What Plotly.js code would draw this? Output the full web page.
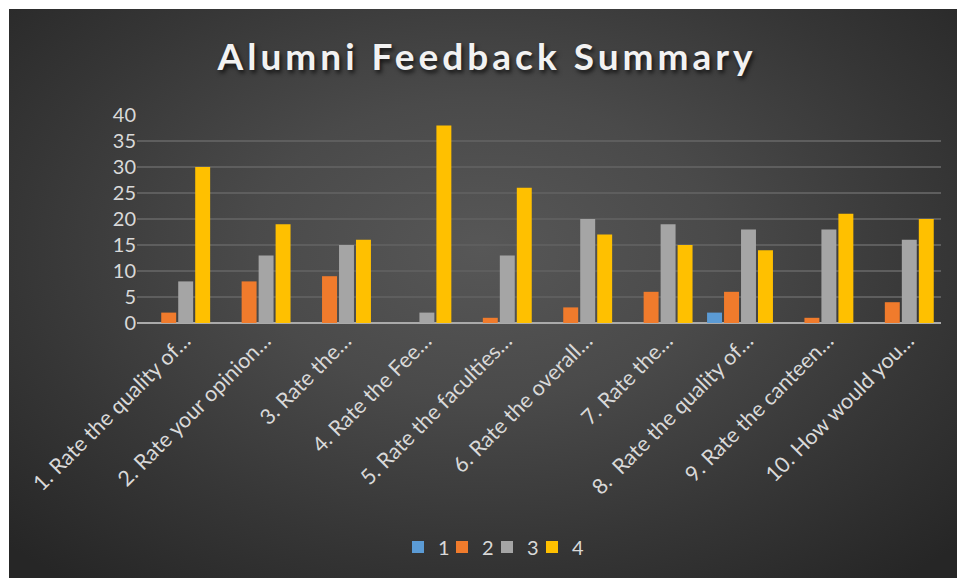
<!DOCTYPE html>
<html>
<head>
<meta charset="utf-8">
<script src="https://cdn.plot.ly/plotly-3.0.1.min.js"></script>
<style>
  html, body { margin: 0; padding: 0; background: #ffffff; }
  #bg {
    position: absolute; left: 9px; top: 9px; width: 948px; height: 569px;
    background: radial-gradient(ellipse 70% 75% at 50% 42%, #575757 0%, #4a4a4a 35%, #363636 70%, #262626 100%);
  }
  #chart { position: absolute; left: 0; top: 0; width: 957px; height: 578px; }
  .gtitle { letter-spacing: 4px; }
</style>
</head>
<body>
<div id="bg"></div>
<div id="chart"></div>
<script>
const categories = [
  "1. Rate the quality of…",
  "2. Rate your opinion…",
  "3. Rate the…",
  "4. Rate the Fee…",
  "5. Rate the faculties…",
  "6. Rate the overall…",
  "7. Rate the…",
  "8.  Rate the quality of…",
  "9. Rate the canteen…",
  "10. How would you…"
];
const seriesNames = ["1", "2", "3", "4"];
const series1 = [0, 0, 0, 0, 0, 0, 0, 2, 0, 0];
const series2 = [2, 8, 9, 0, 1, 3, 6, 6, 1, 4];
const series3 = [8, 13, 15, 2, 13, 20, 19, 18, 18, 16];
const series4 = [30, 19, 16, 38, 26, 17, 15, 14, 21, 20];
const yTicks = [0, 5, 10, 15, 20, 25, 30, 35, 40];

const colors = ["#5B9BD5", "#F07B2C", "#A5A5A5", "#FFC000"];
const allSeries = [series1, series2, series3, series4];
const idx = categories.map((c, i) => i);
const legendIds = ["legend", "legend2", "legend3", "legend4"];

const traces = allSeries.map((vals, k) => ({
  type: "bar",
  name: seriesNames[k],
  x: idx,
  y: vals,
  legend: legendIds[k],
  marker: { color: colors[k], line: { width: 0 } },
  hoverinfo: "x+y+name"
}));

// legend entry placement (symbol centres in pixels)
const legendCentres = [418, 462, 507, 552];
const plotLeft = 137, plotWidth = 804;

const layout = {
  width: 957, height: 578,
  paper_bgcolor: "rgba(0,0,0,0)",
  plot_bgcolor: "rgba(0,0,0,0)",
  margin: { l: 137, r: 16, t: 115, b: 255 },
  font: { family: "Lato, 'Open Sans', sans-serif", color: "#d9d9d9" },
  title: {
    text: "Alumni Feedback Summary",
    font: { family: "Lato, 'Open Sans', sans-serif", size: 37, color: "#f2f2f2", weight: "bold",
            shadow: "2px 3px 4px rgba(0,0,0,0.7)" },
    x: 0.509, xref: "container", xanchor: "center",
    y: 1 - 57 / 578, yref: "container", yanchor: "middle"
  },
  barmode: "group",
  bargap: 0.155,
  bargroupgap: 0.12,
  xaxis: {
    type: "linear",
    range: [-0.5, 9.5],
    tickmode: "array",
    tickvals: idx,
    ticktext: categories,
    tickangle: -45,
    tickfont: { size: 21.5, color: "#d9d9d9" },
    showgrid: false,
    zeroline: false,
    showline: false,
    ticks: "",
    ticklabelshift: 7
  },
  yaxis: {
    range: [0, 40],
    tickmode: "array",
    tickvals: yTicks,
    tickfont: { size: 20, color: "#d9d9d9" },
    showgrid: true,
    gridcolor: "#5e5e5e",
    gridwidth: 1.5,
    zeroline: true,
    zerolinecolor: "#aaaaaa",
    zerolinewidth: 2.5,
    ticks: "",
    showline: false
  },
  showlegend: true
};

legendIds.forEach((id, k) => {
  layout[id] = {
    orientation: "h",
    x: (legendCentres[k] - 20 - plotLeft) / plotWidth, xanchor: "left",
    y: (323 - 547) / 208, yanchor: "middle",
    font: { size: 20, color: "#d9d9d9" },
    bgcolor: "rgba(0,0,0,0)",
    borderwidth: 0
  };
});

Plotly.newPlot("chart", traces, layout, { displayModeBar: false, staticPlot: true });
</script>
</body>
</html>
